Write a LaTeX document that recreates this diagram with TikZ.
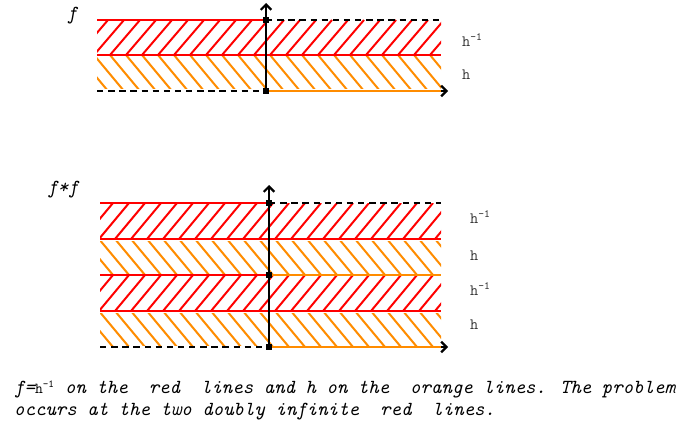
\documentclass[tikz,border=0pt]{standalone}
\usepackage{fontspec}
\usetikzlibrary{arrows.meta}
\definecolor{hred}{RGB}{255,0,0}
\definecolor{horange}{RGB}{255,140,0}

\begin{document}
\begin{tikzpicture}[x=0.03cm, y=-0.03cm,
  redline/.style={hred, line width=1.9pt},
  orangeline/.style={horange, line width=1.9pt},
  dashline/.style={black, line width=1.9pt, dash pattern=on 5.5pt off 4pt},
  redhatch/.style={hred, line width=1.7pt},
  orangehatch/.style={horange, line width=1.7pt},
  axis/.style={black, line width=1.9pt, -{Straight Barb[length=4.5pt,width=9pt]}},
  sq/.style={fill=black, inner sep=0pt, minimum size=5pt},
  lbl/.style={font=\fontsize{13.5}{15}\selectfont\ttfamily, text=black!80, anchor=west},
  txt/.style={font=\fontsize{17}{20}\selectfont\ttfamily\itshape, anchor=base west}]

\useasboundingbox (0,0) rectangle (684,425);

% f : hatching
\begin{scope}
\clip (97,20) rectangle (441,55);
\foreach \x in {78,94,...,430} \draw[redhatch] (\x,55) -- ++(30,-35);
\end{scope}
\begin{scope}
\clip (97,57) rectangle (441,89);
\foreach \x in {78,94,...,430} \draw[orangehatch] (\x,55) -- ++(30,36);
\end{scope}

% f : lines and axes
\coordinate (f0) at (266,91);
\coordinate (f1) at (266,20);
\coordinate (fy) at (266,3);
\coordinate (fx) at (448,91);
\draw[redline] (97,20) -- (f1);
\draw[dashline] (f1) -- (441,20);
\draw[redline] (97,55) -- (441,55);
\draw[dashline] (97,91) -- (f0);
\draw[axis] (f0) -- (fx);
\draw[orangeline] (f0) -- (441,91);
\draw[axis] (f0) -- (fy);
\node[sq] (f0sq) at (f0) {};
\node[sq] (f1sq) at (f1) {};

% f : labels
\node[txt, anchor=center] (flab) at (72,16) {f};
\node[lbl] (fa) at (458,40) {h\textsuperscript{-1}};
\node[lbl] (fb) at (458,75) {h};

% f*f : hatching
\foreach \t in {203,275} {
  \begin{scope}
  \clip (100,\t) rectangle (441,\t+36);
  \foreach \x in {83,99,...,435} \draw[redhatch] (\x,\t+36) -- ++(30,-36);
  \end{scope}
}
\foreach \t in {239,311} {
  \begin{scope}
  \clip (100,\t+2) rectangle (441,\t+34);
  \foreach \x in {83,99,...,435} \draw[orangehatch] (\x,\t) -- ++(30,36);
  \end{scope}
}

% f*f : lines and axes
\coordinate (g0) at (269,347);
\coordinate (g1) at (269,275);
\coordinate (g2) at (269,203);
\coordinate (gy) at (269,185);
\coordinate (gx) at (448,347);
\draw[redline] (100,203) -- (g2);
\draw[dashline] (g2) -- (441,203);
\draw[redline] (100,239) -- (441,239);
\draw[redline] (100,275) -- (g1);
\draw[orangeline] (g1) -- (441,275);
\draw[redline] (100,311) -- (441,311);
\draw[dashline] (100,347) -- (g0);
\draw[axis] (g0) -- (gx);
\draw[orangeline] (g0) -- (441,347);
\draw[axis] (g0) -- (gy);
\node[sq] (g0sq) at (g0) {};
\node[sq] (g1sq) at (g1) {};
\node[sq] (g2sq) at (g2) {};

% f*f : labels
\node[txt, anchor=center] (gglab) at (63,190) {f*f};
\node[lbl] (ga) at (466,217) {h\textsuperscript{-1}};
\node[lbl] (gb) at (466,256) {h};
\node[lbl] (gc) at (466,289) {h\textsuperscript{-1}};
\node[lbl] (gd) at (466,325) {h};

% caption
\node[txt] (cap1) at (10,393) {f={\upshape\fontsize{13}{15}\selectfont h\textsuperscript{-1}} on the~ red~ lines and h on the~ orange lines. The problem};
\node[txt] (cap2) at (10,415) {occurs at the two doubly infinite~ red~ lines.};

\end{tikzpicture}
\end{document}
